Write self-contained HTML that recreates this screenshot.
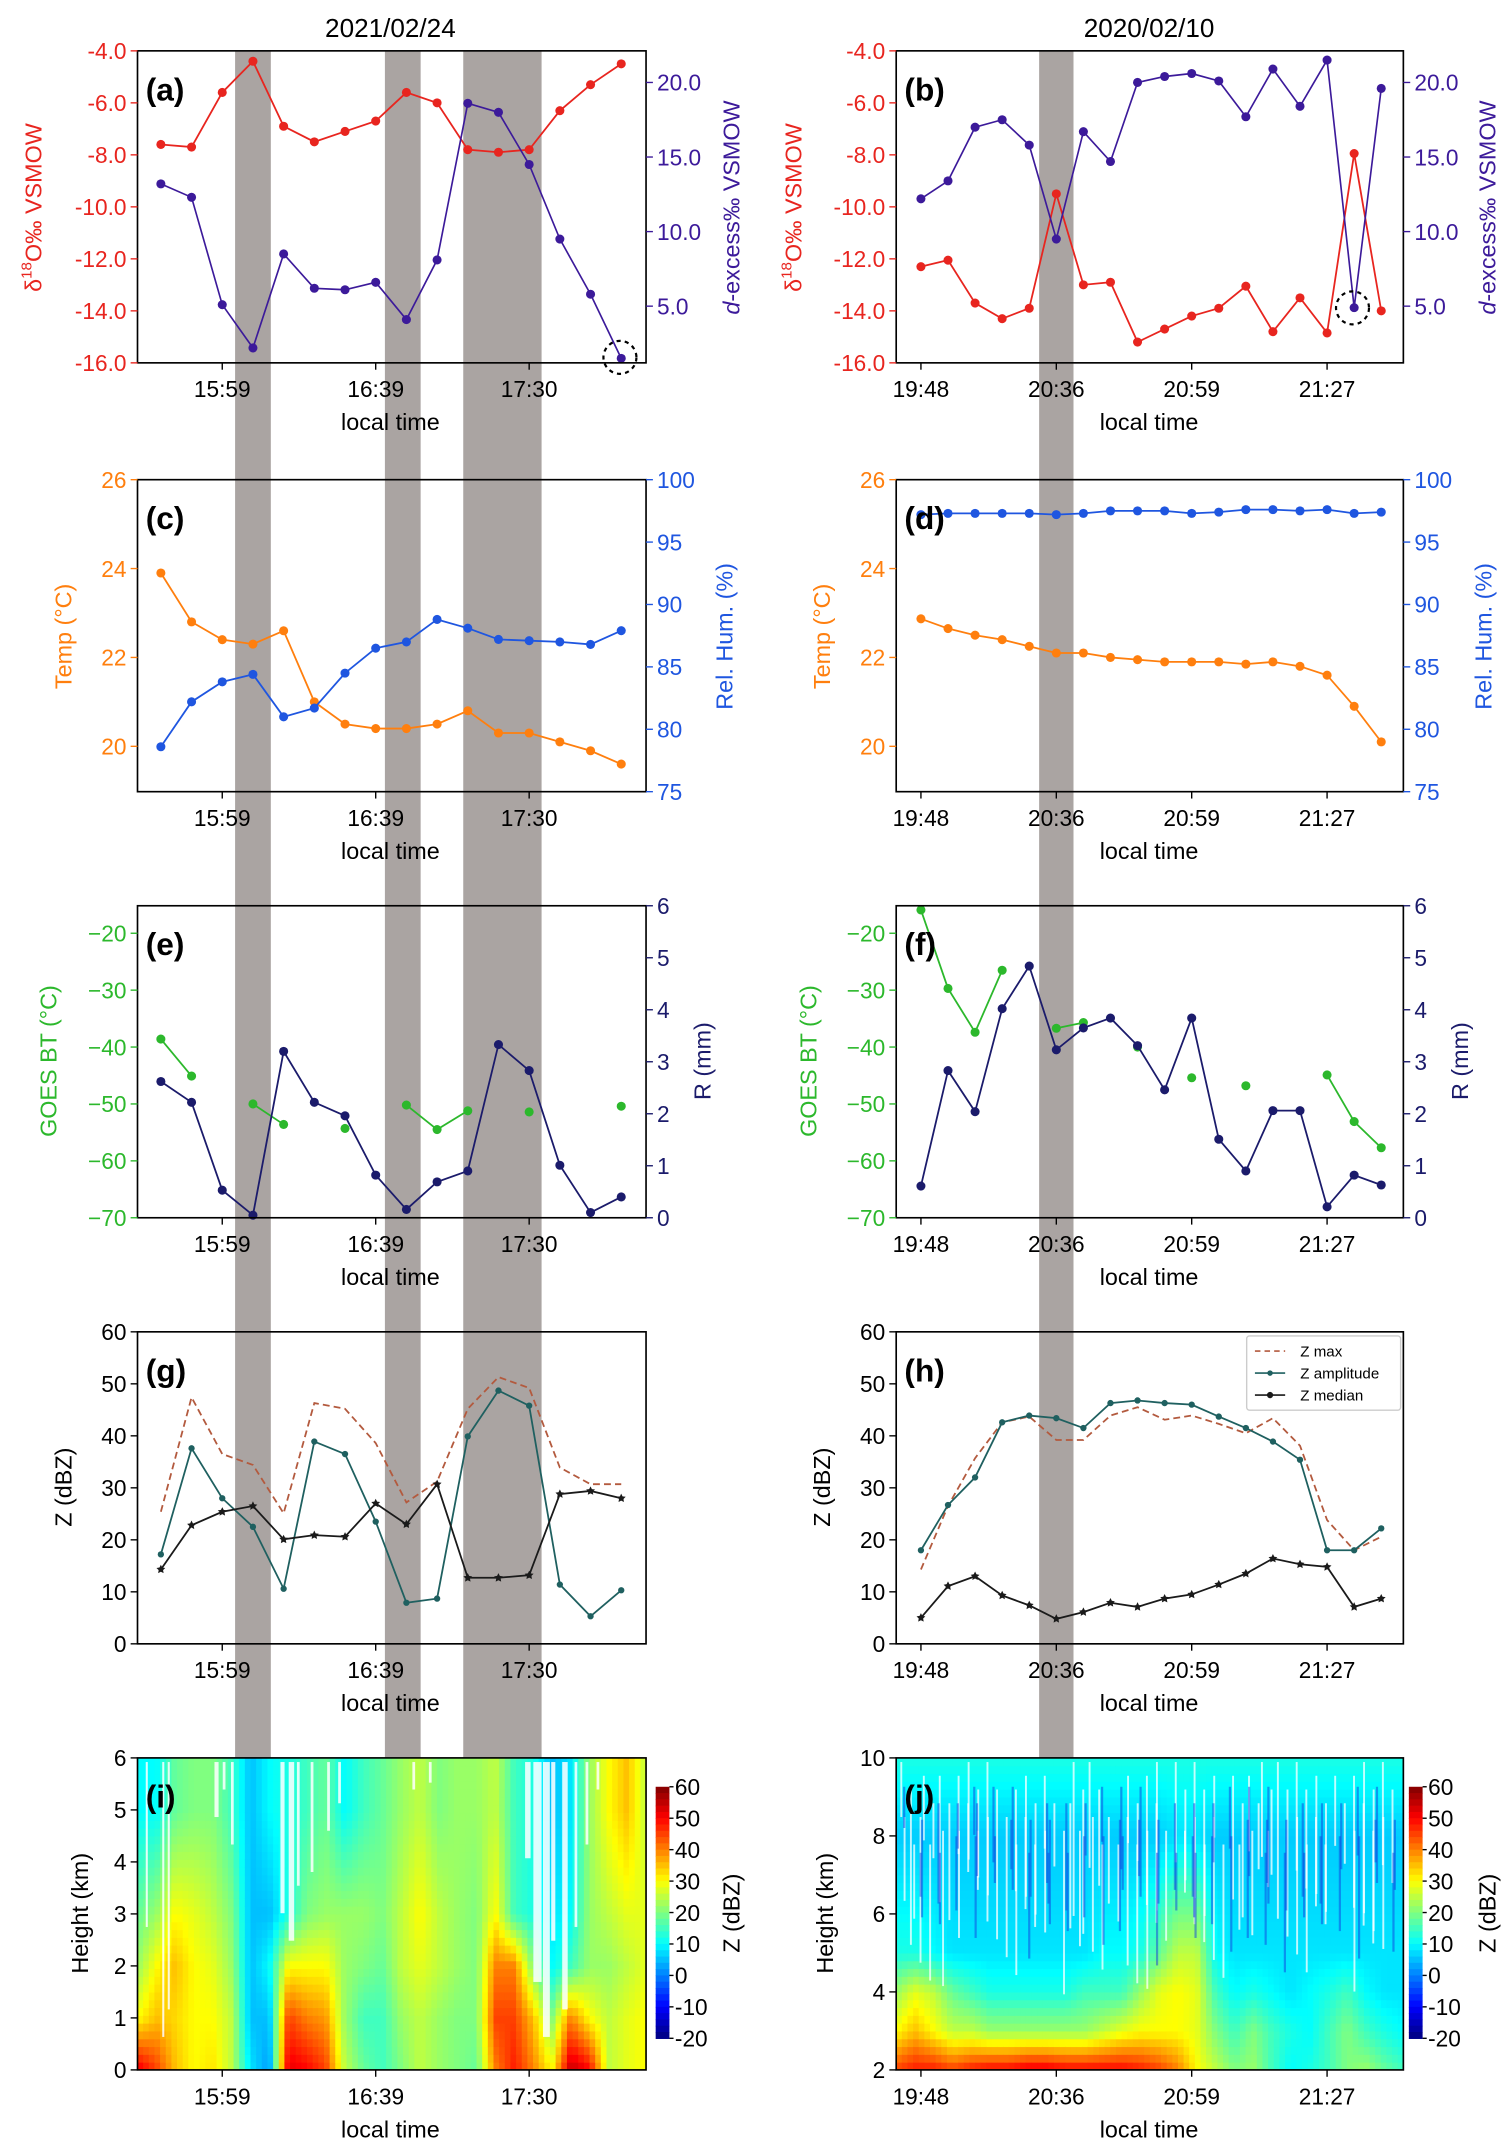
<!DOCTYPE html>
<html><head><meta charset="utf-8"><style>
html,body{margin:0;padding:0;background:#fff}
svg{display:block}
text{font-family:"Liberation Sans",Arial,sans-serif}
</style></head><body>
<svg id="fig" xmlns="http://www.w3.org/2000/svg" width="1512" height="2151" viewBox="0 0 1100 1565">
<rect x="0" y="0" width="1100" height="1565" fill="#fff"/>
<text x="284" y="27" font-size="19" text-anchor="middle">2021/02/24</text>
<text x="836" y="27" font-size="19" text-anchor="middle">2020/02/10</text>
</svg>
<script>
// ---------- data ----------
const timesL = ["15:59","16:39","17:30"];
const timeIdxL = [2,7,12];
const timesR = ["19:48","20:36","20:59","21:27"];
const timeIdxR = [0,5,10,15];
const d18O_a = [-7.6,-7.7,-5.6,-4.4,-6.9,-7.5,-7.1,-6.7,-5.6,-6.0,-7.8,-7.9,-7.8,-6.3,-5.3,-4.5];
const dex_a = [13.2,12.3,5.1,2.2,8.5,6.2,6.1,6.6,4.1,8.1,18.6,18.0,14.5,9.5,5.8,1.5];
const d18O_b = [-12.3,-12.05,-13.7,-14.3,-13.9,-9.5,-13.0,-12.9,-15.2,-14.7,-14.2,-13.9,-13.05,-14.8,-13.5,-14.85,-7.95,-14.0];
const dex_b = [12.2,13.4,17.0,17.5,15.8,9.5,16.7,14.7,20.0,20.4,20.6,20.1,17.7,20.9,18.4,21.5,4.9,19.6];
const temp_c = [23.9,22.8,22.4,22.3,22.6,21.0,20.5,20.4,20.4,20.5,20.8,20.3,20.3,20.1,19.9,19.6];
const rh_c = [78.6,82.2,83.8,84.4,81.0,81.7,84.5,86.5,87.0,88.8,88.1,87.2,87.1,87.0,86.8,87.9];
const temp_d = [22.87,22.65,22.5,22.4,22.25,22.1,22.1,22.0,21.95,21.9,21.9,21.9,21.85,21.9,21.8,21.6,20.9,20.1];
const rh_d = [97.2,97.3,97.3,97.3,97.3,97.2,97.3,97.5,97.5,97.5,97.3,97.4,97.6,97.6,97.5,97.6,97.3,97.4];
const bt_e = [-38.6,-45.1,null,-50.0,-53.6,null,-54.3,null,-50.2,-54.5,-51.2,null,-51.4,null,null,-50.4];
const r_e = [2.62,2.22,0.53,0.05,3.2,2.22,1.96,0.82,0.16,0.69,0.9,3.33,2.83,1.01,0.1,0.4];
const bt_f = [-15.9,-29.7,-37.4,-26.5,null,-36.7,-35.7,null,-40.0,null,-45.4,null,-46.8,null,null,-44.9,-53.1,-57.7];
const r_f = [0.61,2.83,2.04,4.02,4.84,3.23,3.65,3.84,3.31,2.46,3.84,1.51,0.9,2.06,2.06,0.21,0.82,0.63];
const zmax_g = [25.4,47.4,36.5,34.4,25.1,46.3,45.2,38.6,27.2,31.2,45.2,51.3,49.2,33.9,30.7,30.7];
const zamp_g = [17.2,37.6,28.0,22.5,10.6,38.9,36.5,23.5,7.9,8.7,39.9,48.7,45.8,11.4,5.3,10.3];
const zmed_g = [14.3,22.8,25.4,26.5,20.1,20.9,20.6,27.0,23.0,30.7,12.7,12.7,13.2,28.8,29.4,28.0];
const zmax_h = [14.3,26.5,35.7,42.6,43.7,39.2,39.2,43.9,45.5,43.1,43.9,42.3,40.5,43.4,38.1,23.8,18.0,20.6];
const zamp_h = [18.0,26.7,32.0,42.6,43.9,43.4,41.5,46.3,46.8,46.3,46.0,43.7,41.5,38.9,35.4,18.0,18.0,22.2];
const zmed_h = [5.0,11.1,13.0,9.3,7.4,4.8,6.1,7.9,7.1,8.7,9.5,11.4,13.5,16.4,15.3,14.8,7.1,8.7];
const hmI_z0 = [52,45,35,30,32,25,8,2,52,50,45,25,18,15,20,25,22,20,18,40,48,40,30,55,50,25,28,30];
const hmI_z1 = [30,35,33,30,30,25,5,5,45,40,38,22,15,15,22,25,22,20,20,45,45,35,20,40,30,25,28,30];
const hmI_z2 = [22,30,35,30,28,22,5,10,30,30,30,22,20,18,25,28,25,22,20,40,40,20,10,15,22,22,25,28];
const hmI_z3 = [18,22,30,28,25,20,5,5,12,20,22,22,22,20,25,30,25,22,20,30,15,12,8,10,22,25,28,28];
const hmI_z5 = [10,10,18,20,20,15,5,10,12,15,18,10,15,18,22,25,20,22,22,25,15,12,5,8,22,30,35,25];
const hmJ_z2 = [45,48,48,45,48,50,50,52,52,50,50,50,50,48,45,40,30,25,20,22,15,10,12,15,20,22,18,15];
const hmJ_z3 = [30,35,30,25,25,22,22,22,22,22,22,25,28,30,30,30,28,20,15,20,15,12,10,15,20,15,12,10];
const hmJ_z4 = [22,28,25,18,15,12,12,12,12,12,15,15,15,22,28,30,28,15,10,12,10,8,10,12,15,10,8,8];
const hmJ_z5 = [12,12,10,8,8,8,8,8,8,8,8,10,10,12,18,25,25,10,8,8,8,8,8,8,8,8,8,8];
const hmJ_z8 = [6,6,6,6,6,6,6,6,6,6,6,6,6,6,6,8,8,6,6,6,6,6,6,6,6,6,6,6];
const hmJ_z10 = [12,12,12,12,12,12,12,12,12,12,12,12,12,12,12,12,12,12,12,12,12,12,12,12,12,12,12,12];

const NS="http://www.w3.org/2000/svg";
const svg=document.getElementById('fig');
function mk(tag,attrs,parent){const e=document.createElementNS(NS,tag);for(const k in attrs)e.setAttribute(k,attrs[k]);(parent||svg).appendChild(e);return e;}
function lin(d0,d1,r0,r1){return v=>r0+(v-d0)*(r1-r0)/(d1-d0);}
const ROWS=[37,349,659,969,1279], H=227;
const LX=[100,470], RX=[652,1021];
const xL=i=>117+i*22.33, xR=i=>670+i*19.7;
const FS=16.5;

const bandsL=[[171,197],[280,306],[337,394]], bandsR=[[756,781]];
bandsL.concat(bandsR).forEach((b,k)=>{
  const r=mk('rect',{x:b[0],y:37,width:b[1]-b[0],height:1279-37,fill:'#aaa4a2'});
  
  
});

function frame(x0,x1,y0,name){
  const r=mk('rect',{x:x0,y:y0,width:x1-x0,height:H,fill:'none',stroke:'#000','stroke-width':1.2});
  
  
}
function xaxis(side,y0,name){
  const xf=side=='L'?xL:xR, labs=side=='L'?timesL:timesR, idx=side=='L'?timeIdxL:timeIdxR;
  const cx=side=='L'?284:836;
  idx.forEach((ix,k)=>{
    const x=xf(ix);
    mk('line',{x1:x,x2:x,y1:y0+H,y2:y0+H+5,stroke:'#000','stroke-width':1});
    const t=mk('text',{x:x,y:y0+H+25,'font-size':FS,'text-anchor':'middle'});
    t.textContent=labs[k];
    
    
  });
  const t=mk('text',{x:cx,y:y0+H+49,'font-size':17,'text-anchor':'middle'});
  t.textContent='local time';
  
  
}
function yaxis(x,ticks,labels,sc,color,right,name){
  ticks.forEach((v,k)=>{
    const y=sc(v);
    mk('line',{x1:x,x2:right?x+5:x-5,y1:y,y2:y,stroke:color,'stroke-width':1});
    const t=mk('text',{x:right?x+8:x-8,y:y+6,'font-size':FS,'text-anchor':right?'start':'end',fill:color});
    t.textContent=labels[k];
    
    
  });
}
function vlabel(x,y,txt,color,name,italicD){
  const t=mk('text',{x:x,y:y,'font-size':17,'text-anchor':'middle',fill:color,transform:`rotate(-90 ${x} ${y})`});
  if(italicD){const s=mk('tspan',{'font-style':'italic'},t);s.textContent='d';const s2=mk('tspan',{},t);s2.textContent=txt;}
  else t.textContent=txt;
  
  
  return t;
}
function series(vals,xf,sc,color,name,opts){
  opts=opts||{};
  let seg=[];
  const segs=[];
  vals.forEach((v,i)=>{if(v==null){if(seg.length)segs.push(seg);seg=[];}else seg.push([xf(i),sc(v)]);});
  if(seg.length)segs.push(seg);
  segs.forEach(s=>{
    if(s.length>1){
      const p=mk('polyline',{points:s.map(q=>q.join(',')).join(' '),fill:'none',stroke:color,'stroke-width':opts.w||1.3,'stroke-dasharray':opts.dash||'none'});
      
      
    }
  });
  if(opts.nomarker)return;
  vals.forEach((v,i)=>{
    if(v==null)return;
    let m;
    if(opts.star){
      const cx=xf(i),cy=sc(v),r=3.4,pts=[];
      for(let k=0;k<10;k++){const a=-Math.PI/2+k*Math.PI/5,rr=k%2?r*0.5:r;pts.push((cx+rr*Math.cos(a)).toFixed(1)+','+(cy+rr*Math.sin(a)).toFixed(1));}
      m=mk('polygon',{points:pts.join(' '),fill:color});
    } else m=mk('circle',{cx:xf(i),cy:sc(v),r:opts.r||3.3,fill:color});
    
    
  });
}
function plabel(x,y,txt){
  const t=mk('text',{x:x,y:y,'font-size':23,'font-weight':'bold'});
  t.textContent=txt;
  
  
}

const RED='#e8251f', PUR='#3c1a9a';
[['L',d18O_a,dex_a,'panel-a','(a)'],['R',d18O_b,dex_b,'panel-b','(b)']].forEach(([s,d18,dx,nm,lb])=>{
  const X=s=='L'?LX:RX, xf=s=='L'?xL:xR, y0=ROWS[0];
  const sl=lin(-16,-4,y0+H,y0), sr=lin(0,20,277,60);
  series(d18,xf,sl,RED,nm+'-d18O');
  series(dx,xf,sr,PUR,nm+'-dexcess',{w:1.2});
  frame(X[0],X[1],y0,nm);
  yaxis(X[0],[-4,-6,-8,-10,-12,-14,-16],['-4.0','-6.0','-8.0','-10.0','-12.0','-14.0','-16.0'],sl,RED,false,nm+'-left');
  yaxis(X[1],[5,10,15,20],['5.0','10.0','15.0','20.0'],sr,PUR,true,nm+'-right');
  xaxis(s,y0,nm);
  const lx=s=='L'?30:583, rx=s=='L'?538:1088;
  const t=mk('text',{x:lx,y:151,'font-size':17,'text-anchor':'middle',fill:RED,transform:`rotate(-90 ${lx} 151)`});
  const a=mk('tspan',{},t);a.textContent='δ';
  const b=mk('tspan',{dy:-7,'font-size':11},t);b.textContent='18';
  const c=mk('tspan',{dy:7},t);c.textContent='O‰ VSMOW';
  
  
  vlabel(rx,151,'-excess‰ VSMOW',PUR,nm+'-right-axis-title',true);
  plabel(X[0]+6,y0+36,lb);
});
[[451,260],[984,224]].forEach(p=>{
  const c=mk('circle',{cx:p[0],cy:p[1],r:12,fill:'none',stroke:'#000','stroke-width':1.6,'stroke-dasharray':'3,3'});
  
  
});

const ORG='#ff7f0e', BLU='#1f56e0';
[['L',temp_c,rh_c,'panel-c','(c)'],['R',temp_d,rh_d,'panel-d','(d)']].forEach(([s,tp,rh,nm,lb])=>{
  const X=s=='L'?LX:RX, xf=s=='L'?xL:xR, y0=ROWS[1];
  const sl=lin(26,20,y0,543), sr=lin(75,100,y0+H,y0);
  series(tp,xf,sl,ORG,nm+'-temp');
  series(rh,xf,sr,BLU,nm+'-rh');
  frame(X[0],X[1],y0,nm);
  yaxis(X[0],[20,22,24,26],['20','22','24','26'],sl,ORG,false,nm+'-left');
  yaxis(X[1],[75,80,85,90,95,100],['75','80','85','90','95','100'],sr,BLU,true,nm+'-right');
  xaxis(s,y0,nm);
  vlabel(s=='L'?52:604,463,'Temp (°C)',ORG,nm+'-left-axis-title');
  vlabel(s=='L'?533:1085,463,'Rel. Hum. (%)',BLU,nm+'-right-axis-title');
  plabel(X[0]+6,y0+36,lb);
});

const GRN='#2cb82c', NAV='#1b1b6b';
[['L',bt_e,r_e,'panel-e','(e)'],['R',bt_f,r_f,'panel-f','(f)']].forEach(([s,bt,rr,nm,lb])=>{
  const X=s=='L'?LX:RX, xf=s=='L'?xL:xR, y0=ROWS[2];
  const sl=lin(-70,-20,y0+H,679), sr=lin(0,6,y0+H,y0);
  series(bt,xf,sl,GRN,nm+'-goes-bt');
  series(rr,xf,sr,NAV,nm+'-rain');
  frame(X[0],X[1],y0,nm);
  yaxis(X[0],[-20,-30,-40,-50,-60,-70],['−20','−30','−40','−50','−60','−70'],sl,GRN,false,nm+'-left');
  yaxis(X[1],[0,1,2,3,4,5,6],['0','1','2','3','4','5','6'],sr,NAV,true,nm+'-right');
  xaxis(s,y0,nm);
  vlabel(s=='L'?41:594,772,'GOES BT (°C)',GRN,nm+'-left-axis-title');
  vlabel(s=='L'?517:1068,772,'R (mm)',NAV,nm+'-right-axis-title');
  plabel(X[0]+6,y0+36,lb);
});

const BRN='#b35a3e', TEAL='#1f6060', BLK='#1a1a1a';
[['L',zmax_g,zamp_g,zmed_g,'panel-g','(g)'],['R',zmax_h,zamp_h,zmed_h,'panel-h','(h)']].forEach(([s,zx,za,zm,nm,lb])=>{
  const X=s=='L'?LX:RX, xf=s=='L'?xL:xR, y0=ROWS[3];
  const sl=lin(0,60,y0+H,y0);
  series(zx,xf,sl,BRN,nm+'-zmax',{nomarker:true,dash:'5,3'});
  series(za,xf,sl,TEAL,nm+'-zamp',{r:2.3,w:1.3});
  series(zm,xf,sl,BLK,nm+'-zmed',{star:true,w:1.3});
  frame(X[0],X[1],y0,nm);
  yaxis(X[0],[0,10,20,30,40,50,60],['0','10','20','30','40','50','60'],sl,'#000',false,nm+'-left');
  xaxis(s,y0,nm);
  vlabel(s=='L'?52:604,1082,'Z  (dBZ)','#000',nm+'-y-axis-title');
  plabel(X[0]+6,y0+36,lb);
});
(function(){
  const g=mk('g',{});
  
  
  mk('rect',{x:907,y:972,width:112,height:54,rx:2,fill:'#fff',stroke:'#ccc','stroke-width':1},g);
  const ent=[['Z  max',BRN,'4,3',false,false],['Z  amplitude',TEAL,'none',true,false],['Z  median',BLK,'none',false,true]];
  ent.forEach((e,k)=>{
    const y=983+k*16;
    mk('line',{x1:913,x2:935,y1:y,y2:y,stroke:e[1],'stroke-width':1.2,'stroke-dasharray':e[2]},g);
    if(e[3])mk('circle',{cx:924,cy:y,r:2,fill:e[1]},g);
    if(e[4])mk('circle',{cx:924,cy:y,r:2.3,fill:e[1]},g);
    const t=mk('text',{x:946,y:y+4,'font-size':11},g);
    t.textContent=e[0];
    
    
  });
})();

function jet(v){
  let t=(v+20)/80;t=Math.max(0,Math.min(1,t));
  const r=Math.max(0,Math.min(1,1.5-Math.abs(4*t-3))),g=Math.max(0,Math.min(1,1.5-Math.abs(4*t-2))),b=Math.max(0,Math.min(1,1.5-Math.abs(4*t-1)));
  return `rgb(${Math.round(r*255)},${Math.round(g*255)},${Math.round(b*255)})`;
}
function interp(arr,f){const p=f*(arr.length-1),i=Math.floor(p),j=Math.min(arr.length-1,i+1),w=p-i;return arr[i]+(arr[j]-arr[i])*w;}
function heat(x0,x1,y0,levels,profiles,hmin,hmax,name){
  const g=mk('g',{});
  
  
  const NC=90,NR=40,cw=(x1-x0)/NC,rh=H/NR;
  for(let c=0;c<NC;c++){
    const f=(c+0.5)/NC;
    const col=profiles.map(a=>interp(a,f));
    for(let r=0;r<NR;r++){
      const h=hmin+(r+0.5)/NR*(hmax-hmin);
      let k=0;while(k<levels.length-2&&h>levels[k+1])k++;
      const w=(h-levels[k])/(levels[k+1]-levels[k]);
      const v=col[k]+(col[k+1]-col[k])*w;
      mk('rect',{x:(x0+c*cw).toFixed(2),y:(y0+H-(r+1)*rh).toFixed(2),width:(cw+0.4).toFixed(2),height:(rh+0.4).toFixed(2),fill:jet(v)},g);
    }
  }
}
heat(100,470,ROWS[4],[0,1,2,3,5,6],[hmI_z0,hmI_z1,hmI_z2,hmI_z3,hmI_z5,hmI_z5],0,6,'heatmap-i');
heat(652,1021,ROWS[4],[2,3,4,5,8,10],[hmJ_z2,hmJ_z3,hmJ_z4,hmJ_z5,hmJ_z8,hmJ_z10],2,10,'heatmap-j');
const streaksI=[[156,1282,3,40],[162,1282,2,20],[168,1282,2,60],[204,1282,3,110],[210,1282,4,130],[216,1282,2,90],[226,1282,2,80],[238,1282,2,50],[246,1282,2,30],[300,1282,2,20],[312,1282,2,15],[382,1282,4,70],[388,1282,6,160],[395,1282,5,200],[401,1282,3,130],[409,1282,4,180],[418,1282,2,120],[426,1282,2,60],[434,1282,2,20],[106,1282,1.5,120],[118,1282,1.5,200],[122,1282,1.5,180]];
streaksI.forEach(s=>{
  const r=mk('rect',{x:s[0],y:s[1],width:s[2],height:s[3],fill:'#fff',opacity:0.85});
  
  
});
for(let k=0;k<90;k++){
  const x=655+((k*41)%362)+(k%3)*0.7;
  const s=mk('rect',{x:x,y:1282+(k%7)*10,width:1.4,height:40+(k*17)%80,fill:'#fff',opacity:0.75});
  
  
}
for(let k=0;k<60;k++){
  const x=657+((k*53)%358);
  const s=mk('rect',{x:x,y:1300+(k%5)*12,width:1.6,height:30+(k*23)%60,fill:'#1040e0',opacity:0.5});
  
  
}
[['L','panel-i','(i)',[0,1,2,3,4,5,6],0,6,482,512],['R','panel-j','(j)',[2,4,6,8,10],2,10,1030,1062]].forEach(([s,nm,lb,tk,h0,h1,cbx,cbl])=>{
  const X=s=='L'?LX:RX, y0=ROWS[4];
  frame(X[0],X[1],y0,nm);
  const sl=lin(h0,h1,y0+H,y0);
  yaxis(X[0],tk,tk.map(String),sl,'#000',false,nm+'-left');
  xaxis(s,y0,nm);
  vlabel(s=='L'?64:606,1392,'Height (km)','#000',nm+'-y-axis-title');
  plabel(X[0]+6,y0+36,lb);
  const cb=mk('g',{});
  
  
  const top=1300,bot=1483,n=40;
  for(let k=0;k<n;k++){
    const v=60-(k+0.5)*80/n;
    mk('rect',{x:cbx-5,y:top+k*(bot-top)/n,width:10,height:(bot-top)/n+0.5,fill:jet(v)},cb);
  }
  const cs=lin(-20,60,bot,top);
  [-20,-10,0,10,20,30,40,50,60].forEach(v=>{
    mk('line',{x1:cbx+5,x2:cbx+8,y1:cs(v),y2:cs(v),stroke:'#000'},cb);
    const t=mk('text',{x:cbx+9,y:cs(v)+6,'font-size':16.5},cb);
    t.textContent=String(v);
    
    
  });
  vlabel(cbl+26,1392,'Z (dBZ)','#000',nm+'-colorbar-title');
});
</script>
</body></html>
